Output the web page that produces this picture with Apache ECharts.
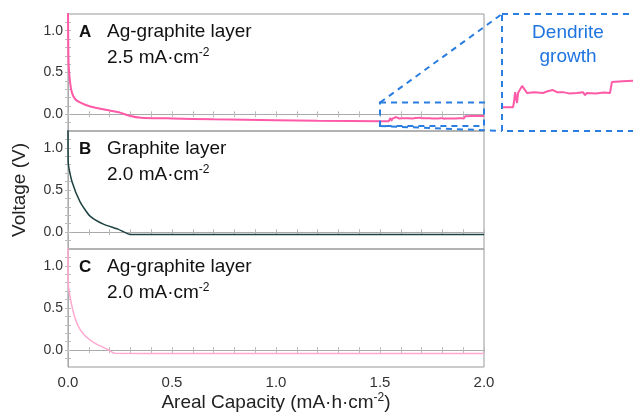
<!DOCTYPE html>
<html>
<head>
<meta charset="utf-8">
<script src="https://cdn.jsdelivr.net/npm/echarts@6/dist/echarts.min.js"></script>
<style>
  html, body { margin: 0; padding: 0; background: #fff; }
  #chart { width: 633px; height: 413px; }
</style>
</head>
<body>
<div id="chart"></div>
<script>
// 数据 - A: Ag-graphite 2.5 mA/cm2
var capA = [0, 0.001, 0.003, 0.01, 0.02, 0.035, 0.06, 0.1, 0.15, 0.2, 0.25, 0.3, 0.35, 0.5, 0.7, 1.0, 1.2, 1.504, 1.541,
    1.545, 1.549, 1.556, 1.56, 1.567, 1.575, 1.586, 1.593, 1.62, 1.653, 1.67, 1.69, 1.705, 1.728, 1.75, 1.78, 1.802, 1.81,
    1.817, 1.85, 1.88, 1.903, 1.91, 1.95, 1.989, 2.0];
var voltA = [1.3, 0.9, 0.6, 0.38, 0.25, 0.18, 0.14, 0.1, 0.07, 0.045, 0.02, -0.02, -0.04, -0.05, -0.06, -0.07, -0.078, -0.083, -0.083,
    -0.07, -0.047, -0.073, -0.049, -0.047, -0.032, -0.042, -0.049, -0.047, -0.049, -0.045, -0.042, -0.047, -0.047, -0.05, -0.049, -0.047, -0.054,
    -0.049, -0.05, -0.048, -0.049, -0.023, -0.021, -0.02, -0.02];
// B: Graphite 2.0 mA/cm2
var capB = [0, 0.001, 0.019, 0.058, 0.106, 0.17, 0.24, 0.3, 0.5, 1.0, 1.5, 2.0];
var voltB = [1.3, 0.83, 0.6, 0.36, 0.19, 0.095, 0.036, -0.028, -0.027, -0.027, -0.027, -0.027];
// C: Ag-graphite 2.0 mA/cm2
var capC = [0, 0.001, 0.019, 0.048, 0.082, 0.13, 0.19, 0.226, 0.5, 1.0, 1.5, 2.0];
var voltC = [1.3, 0.81, 0.52, 0.29, 0.17, 0.08, 0.01, -0.038, -0.04, -0.04, -0.04, -0.04];

var xLabels = [0, 0.5, 1.0, 1.5, 2.0];
var yLabels = [0, 0.5, 1.0];
var panelTitles = ['Ag-graphite layer', 'Graphite layer', 'Ag-graphite layer'];
var panelRates = ['2.5', '2.0', '2.0'];
var panelLetters = ['A', 'B', 'C'];
var colors = ['#ff5aa8', '#1e4142', '#ffa8d0'];

function zip(xs, ys) {
    return xs.map(function (x, i) { return [x, ys[i]]; });
}
function steps(a, b, s) {
    var out = [];
    for (var v = a; v <= b + 1e-9; v += s) out.push(Math.round(v * 10) / 10);
    return out;
}

var chart = echarts.init(document.getElementById('chart'));
var font = 'Liberation Sans, Arial, sans-serif';
var tops = [14, 131, 249];
var heights = [117, 118, 118];

var grids = [], xAxes = [], yAxes = [], series = [];
var dataList = [zip(capA, voltA), zip(capB, voltB), zip(capC, voltC)];

for (var i = 0; i < 3; i++) {
    grids.push({ left: 68, top: tops[i], width: 416, height: heights[i], show: true, borderColor: '#999', borderWidth: 1, outerBoundsMode: 'none' });
    var tickCommon = { show: true, inside: true, length: 3, lineStyle: { color: '#bbb' } };
    // bottom / top x
    xAxes.push({
        type: 'value', gridIndex: i, min: 0, max: 2, position: 'bottom',
        axisLine: { show: true, lineStyle: { color: '#aaa' } },
        axisTick: Object.assign({ customValues: steps(0, 2, 0.1) }, tickCommon),
        axisLabel: i === 2 ? {
            show: true, customValues: xLabels, color: '#333', fontSize: 15, fontFamily: font, margin: 8,
            formatter: function (v) { return v.toFixed(1); }
        } : { show: false },
        splitLine: { show: false },
        name: i === 2 ? 'Areal Capacity (mA·h·cm{s|-2})' : '',
        nameLocation: 'middle', nameGap: 25,
        nameTextStyle: { color: '#222', fontSize: 19, fontFamily: font, rich: { s: { fontSize: 12, verticalAlign: 'top', padding: [0, 0, 9, 0], color: '#222' } } }
    });
    xAxes.push({
        type: 'value', gridIndex: i, min: 0, max: 2, position: 'top',
        axisLine: { show: false },
        axisTick: Object.assign({ customValues: steps(0, 2, 0.1) }, tickCommon),
        axisLabel: { show: false }, splitLine: { show: false }
    });
    yAxes.push({
        type: 'value', gridIndex: i, min: -0.2, max: 1.2, position: 'left',
        axisLine: { show: true, lineStyle: { color: '#aaa' } },
        axisTick: Object.assign({ customValues: steps(-0.1, 1.1, 0.1) }, tickCommon),
        axisLabel: {
            show: true, customValues: yLabels, color: '#333', fontSize: 14, fontFamily: font, margin: 5,
            formatter: function (v) { return v.toFixed(1); }
        },
        splitLine: { show: false }
    });
    yAxes.push({
        type: 'value', gridIndex: i, min: -0.2, max: 1.2, position: 'right',
        axisLine: { show: true, lineStyle: { color: '#aaa' } },
        axisTick: Object.assign({ customValues: steps(-0.1, 1.1, 0.1) }, tickCommon),
        axisLabel: { show: false }, splitLine: { show: false }
    });
    series.push({
        type: 'line', xAxisIndex: i * 2, yAxisIndex: i * 2, data: dataList[i],
        showSymbol: false, clip: true, smooth: 0.2,
        lineStyle: { color: colors[i], width: i === 0 ? 2 : 1.5 }
    });
}

// 放大图 (inset)
grids.push({ left: 502, top: 14, width: 134, height: 117, show: false, outerBoundsMode: 'none' });
xAxes.push({ type: 'value', gridIndex: 3, min: 1.5, max: 2.0, show: false });
yAxes.push({ type: 'value', gridIndex: 3, min: -0.14, max: 0.14, show: false });
series.push({
    type: 'line', xAxisIndex: 6, yAxisIndex: 6, data: dataList[0],
    showSymbol: false, clip: true,
    lineStyle: { color: colors[0], width: 2 }
});

var texts = [];
for (var j = 0; j < 3; j++) {
    texts.push({ type: 'text', left: 79, top: tops[j] + 10,
        style: { text: panelLetters[j], font: 'bold 17px ' + font, fill: '#111' } });
    texts.push({ type: 'text', left: 107, top: tops[j] + 8,
        style: { text: panelTitles[j], font: '19px ' + font, fill: '#111' } });
    texts.push({ type: 'text', left: 107, top: tops[j] + 33,
        style: {
            text: panelRates[j] + ' mA·cm{s|-2}', font: '19px ' + font, fill: '#111',
            rich: { s: { fontSize: 12, verticalAlign: 'top', padding: [0, 0, 9, 0], fill: '#111' } }
        } });
}
texts.push({ type: 'text', x: 20, y: 190, rotation: Math.PI / 2,
    style: { text: 'Voltage (V)', font: '19px ' + font, fill: '#222', align: 'center', verticalAlign: 'middle' } });
texts.push({ type: 'text', x: 568, y: 45,
    style: { text: 'Dendrite\ngrowth', font: '19px ' + font, fill: '#1f74e0', align: 'center', verticalAlign: 'middle', lineHeight: 24 } });

chart.setOption({
    animation: false,
    grid: grids, xAxis: xAxes, yAxis: yAxes, series: series,
    graphic: texts
});

// 虚线框和连接线
var dash = { stroke: '#2a7de1', lineWidth: 2, lineDash: [6, 5], fill: null };
var p1 = chart.convertToPixel({ gridIndex: 0 }, [1.5, 0.14]);
var p2 = chart.convertToPixel({ gridIndex: 0 }, [2.0, -0.14]);
var q1 = chart.convertToPixel({ gridIndex: 3 }, [1.5, 0.14]);
var q2 = chart.convertToPixel({ gridIndex: 3 }, [2.0, -0.14]);
chart.setOption({
    graphic: texts.concat([
        { type: 'rect', shape: { x: p1[0], y: p1[1], width: p2[0] - p1[0], height: p2[1] - p1[1] }, style: dash, z: 10 },
        { type: 'rect', shape: { x: q1[0], y: q1[1], width: q2[0] - q1[0], height: q2[1] - q1[1] }, style: dash, z: 10 },
        { type: 'line', shape: { x1: p1[0], y1: p1[1], x2: q1[0], y2: q1[1] }, style: dash, z: 10 },
        { type: 'line', shape: { x1: p1[0], y1: p2[1], x2: q1[0], y2: q2[1] }, style: dash, z: 10 }
    ])
});
</script>
</body>
</html>
